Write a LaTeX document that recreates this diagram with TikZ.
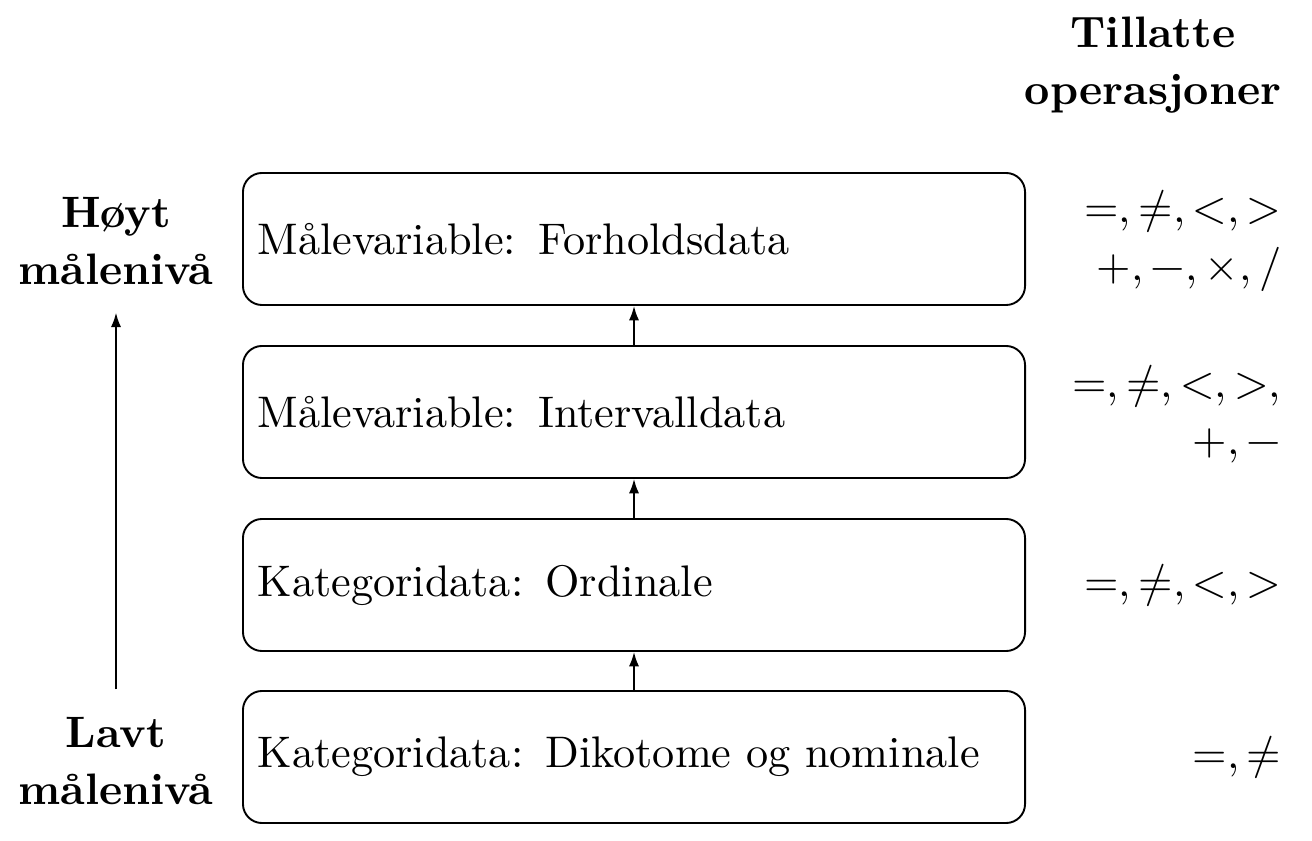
\documentclass[tikz,border=0pt]{standalone}
\usepackage{fontspec}
\usepackage{unicode-math}
\usetikzlibrary{arrows.meta}
\tikzset{
  levelbox/.style={draw, rounded corners=4.5pt, line width=0.45pt,
    minimum width=184.8pt, minimum height=31.2pt, inner xsep=3.5pt,
    text width=177.8pt, align=left},
  opsnode/.style={anchor=east, align=right, inner sep=0pt},
  sidelabel/.style={align=center, font=\fontsize{10.4}{12.6}\selectfont\bfseries},
  uparrow/.style={-{Latex[length=3.4pt,width=2.4pt]}, line width=0.45pt},
}
\begin{document}
\begin{tikzpicture}[x=0.23629pt,y=-0.23629pt,font=\fontsize{10.45}{12.6}\selectfont]
\useasboundingbox (0,0) rectangle (1312,841);
\node[levelbox] (b1) at (634,239) {Målevariable: Forholdsdata};
\node[levelbox] (b2) at (634,412) {Målevariable: Intervalldata};
\node[levelbox] (b3) at (634,585) {Kategoridata: Ordinale};
\node[levelbox] (b4) at (634,757) {Kategoridata: Dikotome og nominale};
\draw[uparrow] (b4.north) -- (b3.south);
\draw[uparrow] (b3.north) -- (b2.south);
\draw[uparrow] (b2.north) -- (b1.south);
\node[sidelabel] (hoy) at (116,241) {Høyt\\[1pt]målenivå};
\node[sidelabel] (lav) at (116,761) {Lavt\\[1pt]målenivå};
\draw[uparrow] ([yshift=3pt]lav.north) -- ([yshift=-3pt]hoy.south);
\node[sidelabel] (head) at (1153,65) {Tillatte\\[1pt]operasjoner};
\node[opsnode] (o1) at (1282,241) {$=,\neq,<,>$\\[1pt]$+,-,\times,/$};
\node[opsnode] (o2) at (1282,414) {$=,\neq,<,>,$\\[1pt]$+,-$};
\node[opsnode] (o3) at (1282,585) {$=,\neq,<,>$};
\node[opsnode] (o4) at (1282,757) {$=,\neq$};
\end{tikzpicture}
\end{document}
